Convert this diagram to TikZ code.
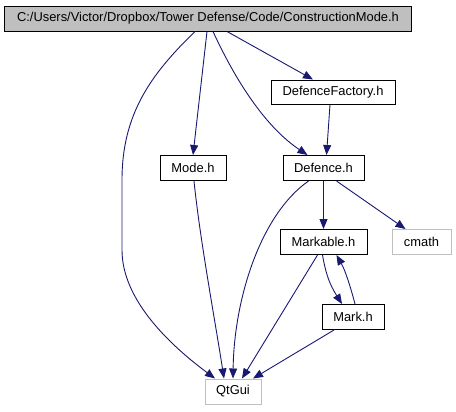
\documentclass[tikz,border=0pt]{standalone}
\usepackage{fontspec}
\setmainfont{Liberation Sans}
\usetikzlibrary{arrows.meta}
\definecolor{edgeblue}{HTML}{191970}
\definecolor{boxgrey}{HTML}{BFBFBF}
\definecolor{lightborder}{HTML}{BFBFBF}
\begin{document}
\begin{tikzpicture}[x=1bp,y=-1bp,
  filebox/.style={draw=black,line width=1bp,fill=white,inner sep=0pt,minimum height=25bp,
    font=\fontsize{12.9bp}{14bp}\selectfont},
  extbox/.style={filebox,draw=lightborder},
  edge/.style={draw=edgeblue,line width=0.9bp,-{Triangle[length=10bp,width=8bp]}}]
\useasboundingbox (0,0) rectangle (456,411);
\node[filebox,fill=boxgrey,minimum width=406bp] (top) at (208,18.5) {C:/Users/Victor/Dropbox/Tower Defense/Code/ConstructionMode.h};
\node[filebox,minimum width=124bp,minimum height=24bp] (df) at (333,92) {DefenceFactory.h};
\node[filebox,minimum width=66bp] (mode) at (193,168) {Mode.h};
\node[filebox,minimum width=81bp] (def) at (323.5,168) {Defence.h};
\node[filebox,minimum width=87bp] (mk) at (323.5,242) {Markable.h};
\node[extbox,minimum width=59bp] (cm) at (421.5,242) {cmath};
\node[filebox,minimum width=62bp] (mark) at (353,317) {Mark.h};
\node[extbox,minimum width=56bp] (qt) at (233,391.5) {QtGui};
% edges
\draw[edge] ([xshift=-13bp]top.south) .. controls (150,75) and (122,115) .. (122,180)
  -- (122,250) .. controls (122,300) and (170,345) .. ([xshift=-18bp]qt.north);
\draw[edge] ([xshift=-1bp]top.south) -- (mode.north);
\draw[edge] ([xshift=5bp]top.south) .. controls (240,90) and (270,130) .. ([xshift=-16bp]def.north);
\draw[edge] ([xshift=19bp]top.south) -- ([xshift=-20bp]df.north);
\draw[edge] ([xshift=-3bp]df.south) -- ([xshift=3bp]def.north);
\draw[edge] ([xshift=1bp]mode.south) .. controls (200,240) and (215,320) .. ([xshift=-9bp]qt.north);
\draw[edge] ([xshift=-15bp]def.south) .. controls (260,215) and (234,300) .. ([xshift=0bp]qt.north);
\draw[edge] (def.south) -- (mk.north);
\draw[edge] ([xshift=13bp]def.south) -- ([xshift=-16bp]cm.north);
\draw[edge] ([xshift=-6bp]mk.south) -- ([xshift=9bp]qt.north);
\draw[edge] ([xshift=-1bp]mk.south) .. controls (326,275) and (330,285) .. ([xshift=-11bp]mark.north);
\draw[edge] ([xshift=2bp]mark.north) .. controls (350,285) and (345,270) .. ([xshift=13bp]mk.south);
\draw[edge] ([xshift=-19bp]mark.south) -- ([xshift=20bp]qt.north);
\end{tikzpicture}
\end{document}
